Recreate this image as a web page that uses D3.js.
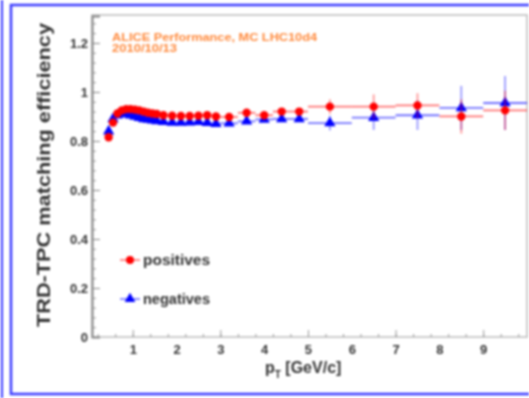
<!DOCTYPE html>
<html>
<head>
<meta charset="utf-8">
<script src="https://cdn.jsdelivr.net/npm/d3@7"></script>
<style>
  body { margin: 0; background: #fff; }
  svg { display: block; filter: blur(0.9px); }
  .lbl { font-family: "Liberation Sans", Arial, sans-serif; font-weight: bold; fill: #333; }
</style>
</head>
<body>
<svg id="chart" width="529" height="398"></svg>
<script>
// bin edges in pT (GeV/c)
const ptEdges = [0.4, 0.5, 0.6, 0.7, 0.8, 0.9, 1.0, 1.1, 1.2, 1.3, 1.4, 1.5, 1.6,
  1.8, 2.0, 2.2, 2.4, 2.6, 2.8, 3.0, 3.4, 3.8, 4.2, 4.6, 5.0, 6, 7, 8, 9, 10];

const positives = [0.815, 0.875, 0.912, 0.925, 0.93, 0.93, 0.928, 0.925, 0.92, 0.915, 0.912, 0.91,
  0.905, 0.903, 0.902, 0.902, 0.903, 0.905, 0.9,
  0.898, 0.915, 0.905, 0.92, 0.92,
  0.94, 0.94, 0.945, 0.9, 0.925];
const positivesErr = [0.004, 0.003, 0.003, 0.003, 0.003, 0.003, 0.003, 0.003, 0.003, 0.003, 0.003, 0.003,
  0.004, 0.004, 0.004, 0.005, 0.005, 0.005, 0.006,
  0.007, 0.008, 0.009, 0.01, 0.012,
  0.03, 0.05, 0.05, 0.07, 0.08];

const negatives = [0.84, 0.89, 0.905, 0.91, 0.91, 0.905, 0.9, 0.895, 0.89, 0.888, 0.885, 0.882,
  0.878, 0.875, 0.875, 0.876, 0.878, 0.874, 0.87,
  0.872, 0.88, 0.888, 0.89, 0.89,
  0.873, 0.895, 0.905, 0.935, 0.955];
const negativesErr = [0.004, 0.003, 0.003, 0.003, 0.003, 0.003, 0.003, 0.003, 0.003, 0.003, 0.003, 0.003,
  0.004, 0.004, 0.004, 0.005, 0.005, 0.005, 0.006,
  0.007, 0.008, 0.009, 0.01, 0.012,
  0.03, 0.05, 0.06, 0.09, 0.11];

const yTicks = [0, 0.2, 0.4, 0.6, 0.8, 1.0, 1.2];
const xLabels = [1, 2, 3, 4, 5, 6, 7, 8, 9];
const xMajor = [1, 3, 5, 7, 9];

const svg = d3.select('#chart');

// canvas borders
svg.append('line').attr('x1', 2).attr('x2', 2).attr('y1', 0).attr('y2', 398)
  .attr('stroke', '#3b3bff').attr('stroke-width', 2);
svg.append('rect').attr('x', 11).attr('y', 5).attr('width', 540).attr('height', 389)
  .attr('fill', 'none').attr('stroke', '#3b3bff').attr('stroke-width', 2.5);

const x = d3.scaleLinear().domain([0.07, 10]).range([92, 527]);
const y = d3.scaleLinear().domain([0, 1.31]).range([337, 16]);

// frame
svg.append('rect').attr('x', 92).attr('y', 15).attr('width', 435).attr('height', 322)
  .attr('fill', 'none').attr('stroke', '#bbb').attr('stroke-width', 1.5);

// x axis ticks
const xMinor = d3.range(0.2, 10, 0.4);
svg.append('g').attr('transform', 'translate(0,337)')
  .call(d3.axisBottom(x).tickValues(xMinor).tickSize(-3).tickFormat(''))
  .call(g => g.select('.domain').attr('stroke', '#ccc'))
  .call(g => g.selectAll('.tick line').attr('stroke', '#999'));
svg.append('g').attr('transform', 'translate(0,337)')
  .call(d3.axisBottom(x).tickValues(xMajor).tickSize(-7).tickFormat(''))
  .call(g => g.select('.domain').remove())
  .call(g => g.selectAll('.tick line').attr('stroke', '#999'));
svg.append('g').attr('transform', 'translate(0,337)')
  .call(d3.axisBottom(x).tickValues(xLabels).tickSize(0).tickPadding(8))
  .call(g => g.select('.domain').remove())
  .call(g => g.selectAll('.tick text').attr('class', 'lbl').attr('font-size', 13));

// y axis
const yMinor = d3.range(0, 1.3, 0.04);
svg.append('g').attr('transform', 'translate(92,0)')
  .call(d3.axisLeft(y).tickValues(yMinor).tickSize(-4).tickFormat(''))
  .call(g => g.select('.domain').remove())
  .call(g => g.selectAll('.tick line').attr('stroke', '#999'));
svg.append('g').attr('transform', 'translate(92,0)')
  .call(d3.axisLeft(y).tickValues(yTicks).tickSize(-8).tickPadding(4)
    .tickFormat(d => String(+d.toFixed(1))))
  .call(g => g.select('.domain').attr('stroke', '#888').attr('stroke-width', 2))
  .call(g => g.selectAll('.tick line').attr('stroke', '#888'))
  .call(g => g.selectAll('.tick text').attr('class', 'lbl').attr('font-size', 13));

// titles
svg.append('text').attr('class', 'lbl').attr('font-size', 18)
  .attr('transform', 'translate(50,175) rotate(-90)')
  .attr('text-anchor', 'middle')
  .attr('textLength', 304).attr('lengthAdjust', 'spacingAndGlyphs')
  .text('TRD-TPC matching efficiency');

const xt = svg.append('text').attr('class', 'lbl').attr('font-size', 16)
  .attr('x', 265).attr('y', 373);
xt.append('tspan').text('p');
xt.append('tspan').attr('font-size', 10).attr('dy', 5).text('T');
xt.append('tspan').attr('dy', -5).text(' [GeV/c]');

// annotation
svg.append('text').attr('x', 112).attr('y', 41).attr('fill', '#ff8a3d')
  .attr('font-family', '"Liberation Sans", Arial, sans-serif').attr('font-weight', 'bold')
  .attr('font-size', 11).attr('textLength', 205).attr('lengthAdjust', 'spacingAndGlyphs')
  .text('ALICE Performance, MC LHC10d4');
svg.append('text').attr('x', 112).attr('y', 52).attr('fill', '#ff8a3d')
  .attr('font-family', '"Liberation Sans", Arial, sans-serif').attr('font-weight', 'bold')
  .attr('font-size', 11).attr('textLength', 65).attr('lengthAdjust', 'spacingAndGlyphs')
  .text('2010/10/13');

// data
function drawSeries(vals, errs, color, symbol) {
  const pts = vals.map((v, i) => ({
    lo: ptEdges[i], hi: ptEdges[i + 1], c: (ptEdges[i] + ptEdges[i + 1]) / 2, v, e: errs[i]
  }));
  const g = svg.append('g');
  g.selectAll('.hb').data(pts).enter().append('line')
    .attr('x1', d => x(d.lo)).attr('x2', d => x(d.hi))
    .attr('y1', d => y(d.v)).attr('y2', d => y(d.v))
    .attr('stroke', color).attr('stroke-width', 1.8).attr('stroke-opacity', 0.55);
  g.selectAll('.vb').data(pts).enter().append('line')
    .attr('x1', d => x(d.c)).attr('x2', d => x(d.c))
    .attr('y1', d => y(d.v - d.e)).attr('y2', d => y(d.v + d.e))
    .attr('stroke', color).attr('stroke-width', 1.8).attr('stroke-opacity', 0.4);
  g.selectAll('.mk').data(pts).enter().append('path')
    .attr('transform', d => `translate(${x(d.c)},${y(d.v)})`)
    .attr('d', d3.symbol().type(symbol).size(symbol === d3.symbolCircle ? 55 : 55))
    .attr('fill', color);
}
drawSeries(negatives, negativesErr, '#0000ff', d3.symbolTriangle);
drawSeries(positives, positivesErr, '#ff0000', d3.symbolCircle);

// legend
const legend = [
  { name: 'positives', color: '#ff0000', symbol: d3.symbolCircle, y: 260 },
  { name: 'negatives', color: '#0000ff', symbol: d3.symbolTriangle, y: 299 }
];
legend.forEach(l => {
  svg.append('line').attr('x1', 120).attr('x2', 140).attr('y1', l.y).attr('y2', l.y)
    .attr('stroke', l.color).attr('stroke-width', 1.5).attr('stroke-opacity', 0.6);
  svg.append('path').attr('transform', `translate(130,${l.y})`)
    .attr('d', d3.symbol().type(l.symbol).size(50)).attr('fill', l.color);
  svg.append('text').attr('class', 'lbl').attr('font-size', 14)
    .attr('x', 143).attr('y', l.y + 5)
    .attr('textLength', 67).attr('lengthAdjust', 'spacingAndGlyphs')
    .text(l.name);
});
</script>
</body>
</html>
